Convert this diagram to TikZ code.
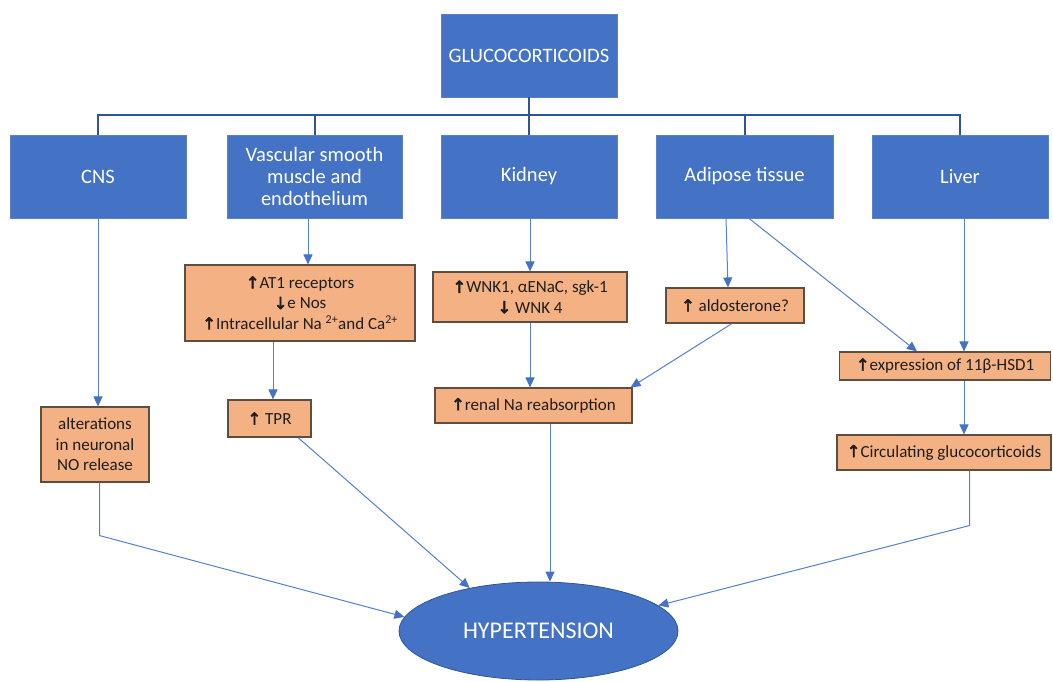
\documentclass[tikz,border=0pt]{standalone}
\usepackage{fontspec}
\setmainfont{Carlito}
\newfontfamily\symfont{DejaVu Sans}[FakeBold=3]
\usetikzlibrary{arrows.meta,shapes.geometric}
\definecolor{bfill}{HTML}{4472C4}
\definecolor{bdraw}{HTML}{5A82CB}
\definecolor{tree}{HTML}{2F5597}
\definecolor{ofill}{HTML}{F4B183}
\definecolor{odraw}{HTML}{5E4E40}
\definecolor{lin}{HTML}{5580CA}
\definecolor{txt}{HTML}{1E1E1E}
\newcommand\uarr{{\symfont\fontsize{16.5}{16}\selectfont ↑}}
\newcommand\darr{{\symfont\fontsize{16.5}{16}\selectfont ↓}}
\tikzset{
  bluebox/.style={draw=bdraw,line width=0.8pt,fill=bfill,text=white,inner sep=0pt,align=center,
    font=\fontsize{20.5}{22}\selectfont},
  orbox/.style={draw=odraw,line width=1.1pt,fill=ofill,text=txt,inner sep=0pt,align=center,
    font=\fontsize{17}{20.5}\selectfont},
  treeline/.style={draw=tree,line width=2pt},
  arr/.style={draw=lin,line width=1pt,-{Triangle[length=10pt,width=9pt,color=bfill]}},
}
\begin{document}
\begin{tikzpicture}[x=1pt,y=-1pt]
\useasboundingbox (0,0) rectangle (1053,682);
% top level
\node[bluebox,minimum width=176pt,minimum height=83pt] (gluc) at (529,55.5) {GLUCOCORTICOIDS};
\node[bluebox,minimum width=176pt,minimum height=83pt] (cns) at (98,176.5) {CNS};
\node[bluebox,minimum width=175pt,minimum height=83pt] (vasc) at (314.5,176.5) {Vascular smooth\\muscle and\\endothelium};
\node[bluebox,minimum width=176pt,minimum height=83pt] (kid) at (529,176.5) {Kidney};
\node[bluebox,minimum width=177pt,minimum height=83pt] (adi) at (744.5,176.5) {Adipose tissue};
\node[bluebox,minimum width=176pt,minimum height=83pt] (liv) at (960,176.5) {Liver};
\coordinate (bus) at (529,115);
% orange boxes
\node[orbox,minimum width=230pt,minimum height=76pt] (at1) at (300,303)
  {\uarr AT1 receptors\\\darr e Nos\\\uarr Intracellular Na \textsuperscript{2+}and Ca\textsuperscript{2+}};
\node[orbox,minimum width=194pt,minimum height=50pt] (wnk) at (530,297)
  {\uarr WNK1, αENaC, sgk-1\\\darr\ WNK 4};
\node[orbox,minimum width=138pt,minimum height=35pt] (ald) at (735,305.5) {\uarr\ aldosterone?};
\node[orbox,minimum width=211pt,minimum height=28pt] (hsd) at (945,366) {\uarr expression of 11β-HSD1};
\node[orbox,minimum width=214pt,minimum height=35pt] (circ) at (944,452.5) {\uarr Circulating glucocorticoids};
\node[orbox,minimum width=108pt,minimum height=75pt] (alt) at (95,444.5) {alterations\\in neuronal\\NO release};
\node[orbox,minimum width=83pt,minimum height=37pt] (tpr) at (269.5,418.5) {\uarr\ TPR};
\node[orbox,minimum width=197pt,minimum height=35pt] (ren) at (533.5,405.5) {\uarr renal Na reabsorption};
% hypertension
\node[ellipse,draw=tree,line width=0.8pt,fill=bfill,text=white,minimum width=279pt,minimum height=98pt,inner sep=0pt,
  font=\fontsize{24}{26}\selectfont] (hyp) at (538.5,631) {HYPERTENSION};
% tree
\draw[treeline] (gluc.south) -- (bus);
\draw[treeline] (cns.north) -- (cns.north |- bus) -- (liv.north |- bus) -- (liv.north);
\draw[treeline] (vasc.north) -- (vasc.north |- bus);
\draw[treeline] (kid.north) -- (kid.north |- bus);
\draw[treeline] (adi.north) -- (adi.north |- bus);
% arrows
\draw[arr] (cns.south) -- (cns.south |- alt.north);
\draw[arr] ([xshift=-6.5pt]vasc.south) -- ([xshift=-6.5pt]vasc.south |- at1.north);
\draw[arr] ([xshift=-27pt]at1.south) -- ([xshift=-27pt]at1.south |- tpr.north);
\draw[arr] ([xshift=1pt]kid.south) -- ([xshift=1pt]kid.south |- wnk.north);
\draw[arr] (wnk.south) -- (wnk.south |- ren.north);
\draw[arr] ([xshift=-18.5pt]adi.south) -- ([xshift=-7pt]ald.north);
\draw[arr] ([xshift=4.5pt]adi.south) -- ([xshift=-28pt]hsd.north);
\draw[arr] ([xshift=4pt]liv.south) -- ([xshift=4pt]liv.south |- hsd.north);
\draw[arr] ([xshift=4pt]liv.south |- hsd.south) -- ([xshift=4pt]liv.south |- circ.north);
\draw[arr] ([xshift=-3pt]ald.south) -- ([xshift=-2pt]ren.north east);
\draw[arr] ([xshift=4.5pt]alt.south) -- ++(0,53) -- (hyp.174);
\draw[arr] ([xshift=28.5pt]tpr.south) -- (hyp.148);
\draw[arr] ([xshift=16.5pt]ren.south) -- ([xshift=16.5pt]ren.south |- hyp.north);
\draw[arr] ([xshift=25.5pt]circ.south) -- ++(0,55) -- (hyp.12);
\end{tikzpicture}
\end{document}
